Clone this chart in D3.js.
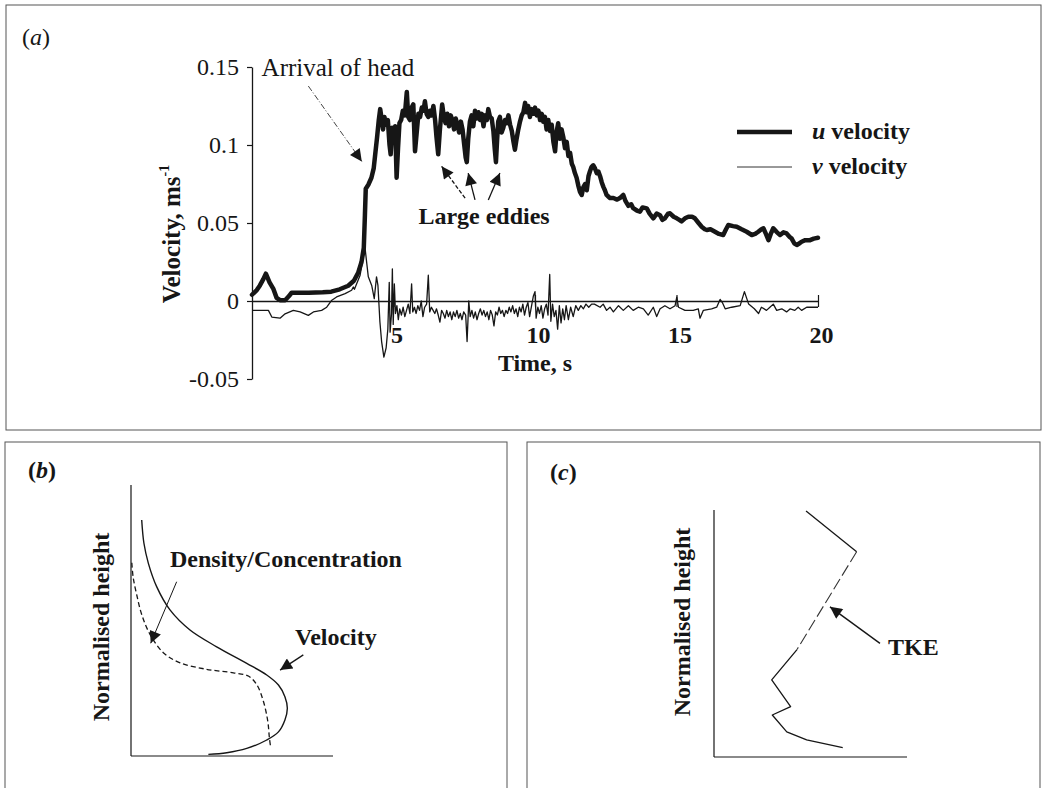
<!DOCTYPE html>
<html>
<head>
<meta charset="utf-8">
<script src="https://cdn.jsdelivr.net/npm/d3@7"></script>
<style>
  html, body { margin: 0; padding: 0; background: #fff; }
  svg { display: block; font-family: "Liberation Serif", "Times New Roman", serif; }
</style>
</head>
<body>
<svg id="fig" width="1044" height="788"></svg>
<script>
// ---- (a) velocity time series ----
const uTime = [0.00,0.17,0.28,0.40,0.49,0.62,0.75,0.87,0.99,1.17,1.30,1.40,2.00,2.50,2.80,3.10,3.40,3.60,3.75,3.87,3.95,3.99,4.02,4.11,4.22,4.30,4.36,4.42,4.48,4.53,4.58,4.63,4.68,4.74,4.80,4.86,4.90,4.95,5.01,5.06,5.11,5.16,5.21,5.27,5.33,5.40,5.47,5.52,5.58,5.64,5.70,5.76,5.82,5.88,5.94,6.00,6.06,6.11,6.17,6.23,6.29,6.35,6.41,6.47,6.52,6.58,6.64,6.72,6.78,6.84,6.90,6.96,7.02,7.08,7.14,7.20,7.26,7.32,7.38,7.44,7.50,7.55,7.59,7.64,7.70,7.76,7.82,7.88,7.94,8.00,8.06,8.12,8.18,8.24,8.30,8.35,8.41,8.47,8.53,8.58,8.62,8.66,8.70,8.76,8.82,8.88,8.94,9.00,9.06,9.12,9.18,9.24,9.29,9.35,9.41,9.47,9.53,9.59,9.65,9.71,9.76,9.82,9.88,9.94,10.00,10.06,10.12,10.18,10.24,10.29,10.35,10.41,10.47,10.53,10.59,10.65,10.71,10.76,10.82,10.88,10.94,11.00,11.06,11.12,11.18,11.24,11.30,11.35,11.41,11.47,11.53,11.59,11.65,11.71,11.77,11.83,11.89,11.94,12.00,12.06,12.12,12.18,12.24,12.30,12.36,12.42,12.47,12.53,12.59,12.65,12.77,12.90,13.00,13.12,13.20,13.30,13.40,13.47,13.60,13.71,13.80,13.95,14.05,14.18,14.30,14.42,14.50,14.59,14.70,14.77,14.90,15.01,15.10,15.18,15.30,15.42,15.55,15.65,15.78,15.89,16.00,16.07,16.20,16.36,16.50,16.65,16.75,16.83,17.00,17.13,17.30,17.48,17.66,17.78,17.89,18.00,18.07,18.16,18.25,18.33,18.42,18.55,18.66,18.78,18.89,19.00,19.07,19.16,19.25,19.35,19.42,19.55,19.72,19.85,20.00];
const uVel = [0.004,0.007,0.010,0.014,0.0175,0.012,0.008,0.002,0.0005,0.0005,0.003,0.0053,0.0053,0.0056,0.006,0.0075,0.0098,0.013,0.018,0.025,0.034,0.055,0.072,0.0745,0.079,0.085,0.095,0.105,0.116,0.123,0.117,0.110,0.118,0.113,0.116,0.100,0.094,0.111,0.104,0.112,0.079,0.098,0.114,0.116,0.122,0.119,0.134,0.118,0.116,0.124,0.126,0.096,0.108,0.120,0.118,0.124,0.122,0.128,0.120,0.118,0.122,0.119,0.125,0.116,0.105,0.094,0.110,0.126,0.118,0.114,0.120,0.112,0.119,0.116,0.110,0.117,0.113,0.108,0.115,0.110,0.100,0.092,0.089,0.104,0.115,0.119,0.112,0.122,0.117,0.121,0.116,0.120,0.112,0.119,0.116,0.123,0.118,0.117,0.109,0.097,0.089,0.103,0.115,0.118,0.108,0.111,0.116,0.114,0.119,0.113,0.109,0.102,0.097,0.104,0.110,0.115,0.119,0.121,0.127,0.121,0.125,0.118,0.123,0.120,0.124,0.119,0.122,0.116,0.120,0.115,0.118,0.110,0.116,0.109,0.113,0.102,0.096,0.108,0.114,0.104,0.110,0.105,0.098,0.102,0.093,0.095,0.088,0.086,0.082,0.079,0.074,0.070,0.068,0.073,0.075,0.071,0.080,0.083,0.086,0.087,0.085,0.082,0.083,0.080,0.076,0.073,0.071,0.068,0.067,0.066,0.066,0.065,0.066,0.068,0.064,0.061,0.062,0.0595,0.058,0.0573,0.060,0.0594,0.056,0.053,0.056,0.055,0.052,0.053,0.056,0.0562,0.054,0.053,0.052,0.051,0.053,0.054,0.054,0.053,0.050,0.0476,0.046,0.0455,0.046,0.0444,0.043,0.0423,0.046,0.0487,0.048,0.0476,0.046,0.0444,0.0423,0.043,0.0444,0.046,0.0466,0.043,0.039,0.043,0.0466,0.044,0.0423,0.044,0.0433,0.041,0.040,0.037,0.0359,0.037,0.038,0.039,0.039,0.040,0.0405];

const vTime = [0.00,0.58,0.70,0.99,1.17,1.46,1.70,1.99,2.17,2.46,2.64,2.82,2.99,3.29,3.52,3.58,3.62,3.82,3.93,3.99,4.05,4.11,4.23,4.32,4.40,4.45,4.52,4.58,4.66,4.74,4.80,4.85,4.88,4.93,4.96,4.99,5.03,5.07,5.12,5.17,5.22,5.28,5.34,5.40,5.46,5.52,5.58,5.64,5.68,5.74,5.80,5.86,5.92,5.98,6.04,6.10,6.17,6.23,6.28,6.34,6.40,6.46,6.52,6.58,6.64,6.70,6.76,6.82,6.88,6.94,7.00,7.06,7.12,7.18,7.24,7.30,7.36,7.42,7.48,7.55,7.60,7.66,7.71,7.77,7.83,7.89,7.95,8.01,8.07,8.13,8.19,8.25,8.31,8.37,8.43,8.49,8.55,8.61,8.67,8.73,8.79,8.85,8.91,8.97,9.03,9.09,9.15,9.21,9.27,9.33,9.39,9.45,9.51,9.57,9.63,9.69,9.75,9.81,9.87,9.94,10.00,10.04,10.10,10.16,10.22,10.28,10.34,10.40,10.46,10.52,10.56,10.62,10.68,10.74,10.80,10.86,10.92,10.98,11.04,11.10,11.18,11.26,11.35,11.44,11.53,11.62,11.71,11.80,11.90,12.00,12.10,12.30,12.41,12.53,12.65,12.77,12.95,13.12,13.30,13.47,13.65,13.83,14.00,14.18,14.30,14.42,14.59,14.77,14.95,15.01,15.07,15.30,15.59,15.77,15.83,15.95,16.24,16.42,16.54,16.62,16.72,16.95,17.25,17.40,17.55,17.75,17.90,18.00,18.18,18.30,18.42,18.54,18.72,18.89,19.02,19.18,19.30,19.42,19.60,20.00];
const vVel = [-0.006,-0.006,-0.0103,-0.011,-0.0082,-0.006,-0.007,-0.0092,-0.007,-0.006,-0.004,0.0005,0.0026,0.0047,0.0069,0.009,0.0075,0.0165,0.028,0.0348,0.025,0.0155,0.010,0.0015,0.0155,0.010,-0.0135,-0.026,-0.036,-0.030,-0.018,0.012,-0.020,-0.008,0.0205,-0.015,0.011,-0.008,-0.003,-0.012,-0.005,-0.009,-0.004,-0.010,-0.006,-0.002,-0.008,0.011,-0.007,-0.004,-0.008,-0.003,-0.006,0.000,-0.010,-0.004,-0.002,0.0165,-0.007,-0.004,-0.006,-0.008,-0.005,-0.009,-0.0135,-0.006,-0.008,-0.011,-0.006,-0.010,-0.007,-0.012,-0.007,-0.010,-0.006,-0.011,-0.008,-0.012,-0.007,-0.009,-0.026,0.000,-0.010,-0.006,-0.011,-0.007,-0.012,-0.008,-0.005,-0.009,-0.006,-0.010,-0.007,-0.012,-0.006,-0.009,-0.016,-0.007,-0.009,-0.004,-0.008,-0.006,-0.010,-0.006,-0.008,-0.004,-0.007,-0.003,-0.008,-0.005,-0.010,-0.004,-0.007,-0.002,-0.009,-0.004,-0.001,-0.010,-0.004,0.003,0.006,-0.011,-0.004,-0.008,-0.003,-0.011,-0.005,-0.002,-0.009,0.017,-0.013,-0.002,-0.010,-0.006,-0.018,-0.003,-0.014,-0.005,-0.012,-0.003,-0.012,-0.004,-0.010,-0.003,-0.006,-0.003,-0.005,-0.002,-0.004,-0.002,-0.002,-0.004,-0.002,-0.006,-0.004,-0.007,-0.003,-0.006,-0.003,-0.006,-0.004,-0.005,-0.009,-0.004,-0.010,-0.005,-0.003,-0.005,-0.003,0.0025,-0.004,-0.006,-0.006,-0.005,-0.011,-0.006,-0.005,-0.004,0.001,-0.001,-0.005,-0.004,-0.003,0.006,-0.002,-0.005,-0.008,-0.004,-0.006,-0.004,-0.002,-0.006,-0.005,-0.007,-0.005,-0.006,-0.004,-0.006,-0.004,-0.004];

const yTickValues = [-0.05, 0, 0.05, 0.1, 0.15];
const yTickLabels = ["-0.05", "0", "0.05", "0.1", "0.15"];
const xTickValues = [5, 10, 15, 20];
const xTickLabels = ["5", "10", "15", "20"];
const seriesNames = ["u", "v"];

// ---- (b) schematic vertical profiles (normalised units) ----
const velProfileX = [0.053,0.064,0.086,0.127,0.193,0.292,0.424,0.573,0.672,0.730,0.762,0.774,0.762,0.730,0.672,0.573,0.474,0.383];
const velProfileY = [0.871,0.785,0.711,0.625,0.539,0.465,0.403,0.342,0.299,0.262,0.219,0.176,0.133,0.089,0.059,0.028,0.012,0.006];
const densProfileX = [0.004,0.011,0.028,0.053,0.094,0.160,0.243,0.374,0.507,0.581,0.622,0.655,0.677,0.685,0.692];
const densProfileY = [0.713,0.658,0.596,0.522,0.449,0.381,0.344,0.320,0.307,0.295,0.264,0.203,0.129,0.068,0.028];

// ---- (c) turbulent kinetic energy profile ----
const tkeX = [0.477,0.739,0.430,0.299,0.397,0.302,0.377,0.480,0.667];
const tkeY = [0.996,0.831,0.435,0.312,0.204,0.170,0.102,0.069,0.038];

const svg = d3.select("#fig");
const ink = "#161616";

// arrowhead marker
const defs = svg.append("defs");
defs.append("marker")
  .attr("id", "head")
  .attr("viewBox", "0 0 10 10")
  .attr("refX", 10).attr("refY", 5)
  .attr("markerUnits", "userSpaceOnUse")
  .attr("markerWidth", 15).attr("markerHeight", 12)
  .attr("orient", "auto")
  .append("path").attr("d", "M0,0 L10,5 L0,10 Z").attr("fill", ink);

// panel frames
const frames = [
  {x: 6, y: 5, w: 1035, h: 425},
  {x: 5, y: 442, w: 502, h: 360},
  {x: 527, y: 442, w: 513, h: 360}
];
svg.selectAll("rect.frame").data(frames).join("rect")
  .attr("class", "frame")
  .attr("x", d => d.x).attr("y", d => d.y)
  .attr("width", d => d.w).attr("height", d => d.h)
  .attr("fill", "none").attr("stroke", "#555").attr("stroke-width", 1);

// panel letters
function panelLetter(x, y, letter, bold) {
  const t = svg.append("text").attr("x", x).attr("y", y)
    .attr("font-size", 24).attr("fill", ink)
    .attr("font-weight", bold ? "bold" : "normal");
  t.append("tspan").text("(");
  t.append("tspan").attr("font-style", "italic").text(letter);
  t.append("tspan").text(")");
}
panelLetter(22, 45, "a", false);
panelLetter(28, 478, "b", true);
panelLetter(550, 480, "c", true);

// ================= panel (a) =================
const x = d3.scaleLinear().domain([0, 20]).range([252, 818]);
const y = d3.scaleLinear().domain([-0.05, 0.15]).range([379, 67]);

const gA = svg.append("g");

// y axis
const yAxis = d3.axisLeft(y).tickValues(yTickValues)
  .tickFormat((d, i) => yTickLabels[i]).tickSizeInner(5).tickSizeOuter(0).tickPadding(8);
const gy = gA.append("g").attr("transform", `translate(${x(0)},0)`).call(yAxis);
gy.select(".domain").attr("stroke", ink).attr("stroke-width", 1.3);
gy.selectAll(".tick line").attr("stroke", ink).attr("stroke-width", 1.2);
gy.selectAll(".tick text").attr("font-size", 24).attr("font-family", "Liberation Serif")
  .attr("fill", ink);

// x axis along zero velocity
const xAxis = d3.axisBottom(x).tickValues(xTickValues)
  .tickFormat((d, i) => xTickLabels[i]).tickSizeInner(6).tickSizeOuter(0).tickPadding(19);
const gx = gA.append("g").attr("transform", `translate(0,${y(0)})`).call(xAxis);
gx.select(".domain").attr("stroke", ink).attr("stroke-width", 1.3);
gx.selectAll(".tick line").attr("stroke", ink).attr("stroke-width", 1.2).attr("y1", -6);
gx.selectAll(".tick text").attr("font-size", 24).attr("font-weight", "bold")
  .attr("font-family", "Liberation Serif").attr("fill", ink).attr("dx", 3);

// axis titles
const ylab = gA.append("text")
  .attr("transform", "translate(180,234) rotate(-90)")
  .attr("text-anchor", "middle")
  .attr("font-size", 25).attr("font-weight", "bold").attr("fill", ink);
ylab.append("tspan").text("Velocity, ms");
ylab.append("tspan").attr("font-size", 14).attr("dy", -11).text("-1");

gA.append("text").attr("x", x(10)).attr("y", 371)
  .attr("text-anchor", "middle").attr("font-size", 24).attr("font-weight", "bold")
  .attr("fill", ink).text("Time, s");

// series
const uData = d3.zip(uTime, uVel);
const vData = d3.zip(vTime, vVel);
const line = d3.line().x(d => x(d[0])).y(d => y(d[1]));

gA.append("path").datum(vData).attr("d", line)
  .attr("fill", "none").attr("stroke", ink).attr("stroke-width", 1.3)
  .attr("stroke-linejoin", "round");
gA.append("path").datum(uData).attr("d", line)
  .attr("fill", "none").attr("stroke", ink).attr("stroke-width", 4.5)
  .attr("stroke-linejoin", "round").attr("stroke-linecap", "round");

// annotations
gA.append("text").attr("x", x(0.34)).attr("y", y(0.1442))
  .attr("font-size", 25).attr("fill", ink).text("Arrival of head");
gA.append("line")
  .attr("x1", x(1.99)).attr("y1", y(0.1378)).attr("x2", x(3.88)).attr("y2", y(0.0895))
  .attr("stroke", "#444").attr("stroke-width", 1).attr("stroke-dasharray", "6,2,1,2")
  .attr("marker-end", "url(#head)");

gA.append("text").attr("x", x(5.88)).attr("y", y(0.0496))
  .attr("font-size", 24).attr("font-weight", "bold").attr("fill", ink).text("Large eddies");
const eddyArrows = [
  {t0: 7.53, v0: 0.0659, t1: 6.70, v1: 0.0863, dash: "4,2"},
  {t0: 7.88, v0: 0.0648, t1: 7.64, v1: 0.0820, dash: null},
  {t0: 8.35, v0: 0.0648, t1: 8.76, v1: 0.0820, dash: null}
];
gA.selectAll("line.eddy").data(eddyArrows).join("line")
  .attr("class", "eddy")
  .attr("x1", d => x(d.t0)).attr("y1", d => y(d.v0))
  .attr("x2", d => x(d.t1)).attr("y2", d => y(d.v1))
  .attr("stroke", ink).attr("stroke-width", 1.3)
  .attr("stroke-dasharray", d => d.dash)
  .attr("marker-end", "url(#head)");

// legend
const legend = gA.append("g");
seriesNames.forEach((name, i) => {
  const ly = 132 + i * 35;
  legend.append("line").attr("x1", 737).attr("x2", 792).attr("y1", ly).attr("y2", ly)
    .attr("stroke", i === 0 ? ink : "#333").attr("stroke-width", i === 0 ? 4.5 : 1);
  const t = legend.append("text").attr("x", 812).attr("y", ly + 7)
    .attr("font-size", 24).attr("font-weight", "bold").attr("fill", ink);
  t.append("tspan").attr("font-style", "italic").text(name);
  t.append("tspan").text(" velocity");
});

// ================= panel (b) =================
const xb = d3.scaleLinear().domain([0, 1]).range([131, 333]);
const yb = d3.scaleLinear().domain([0, 1]).range([756, 485]);
const gB = svg.append("g");
gB.append("line").attr("x1", xb(0)).attr("x2", xb(0)).attr("y1", yb(0)).attr("y2", yb(1))
  .attr("stroke", ink).attr("stroke-width", 1.2);
gB.append("line").attr("x1", xb(0)).attr("x2", xb(1)).attr("y1", yb(0)).attr("y2", yb(0))
  .attr("stroke", ink).attr("stroke-width", 1.2);

const smooth = d3.line().curve(d3.curveCatmullRom.alpha(0.5));
gB.append("path")
  .attr("d", smooth(d3.zip(velProfileX, velProfileY).map(d => [xb(d[0]), yb(d[1])])))
  .attr("fill", "none").attr("stroke", ink).attr("stroke-width", 1.4);
gB.append("path")
  .attr("d", smooth(d3.zip(densProfileX, densProfileY).map(d => [xb(d[0]), yb(d[1])])))
  .attr("fill", "none").attr("stroke", ink).attr("stroke-width", 1.3)
  .attr("stroke-dasharray", "5,3");

gB.append("text").attr("transform", `translate(101,${627}) rotate(-90)`)
  .attr("text-anchor", "middle").attr("dominant-baseline", "central")
  .attr("font-size", 24).attr("font-weight", "bold").attr("fill", ink).text("Normalised height");
gB.append("text").attr("x", xb(0.193)).attr("y", yb(0.698))
  .attr("font-size", 24).attr("font-weight", "bold").attr("fill", ink).text("Density/Concentration");
gB.append("text").attr("x", xb(0.812)).attr("y", yb(0.41))
  .attr("font-size", 24).attr("font-weight", "bold").attr("fill", ink).text("Velocity");
gB.append("line").attr("x1", xb(0.226)).attr("y1", yb(0.643)).attr("x2", xb(0.0975)).attr("y2", yb(0.416))
  .attr("stroke", ink).attr("stroke-width", 1).attr("marker-end", "url(#head)");
gB.append("line").attr("x1", xb(0.853)).attr("y1", yb(0.373)).attr("x2", xb(0.738)).attr("y2", yb(0.317))
  .attr("stroke", ink).attr("stroke-width", 1.3).attr("marker-end", "url(#head)");

// ================= panel (c) =================
const xc = d3.scaleLinear().domain([0, 1]).range([714, 907]);
const yc = d3.scaleLinear().domain([0, 1]).range([757, 510]);
const gC = svg.append("g");
gC.append("line").attr("x1", xc(0)).attr("x2", xc(0)).attr("y1", yc(0)).attr("y2", yc(1))
  .attr("stroke", ink).attr("stroke-width", 1.2);
gC.append("line").attr("x1", xc(0)).attr("x2", xc(1)).attr("y1", yc(0)).attr("y2", yc(0))
  .attr("stroke", ink).attr("stroke-width", 1.2);

const tke = d3.zip(tkeX, tkeY).map(d => [xc(d[0]), yc(d[1])]);
const straight = d3.line();
gC.append("path").attr("d", straight(tke.slice(0, 2)))
  .attr("fill", "none").attr("stroke", ink).attr("stroke-width", 1.3);
gC.append("path").attr("d", straight(tke.slice(1, 3)))
  .attr("fill", "none").attr("stroke", "#333").attr("stroke-width", 1.1).attr("stroke-dasharray", "12,4");
gC.append("path").attr("d", straight(tke.slice(2)))
  .attr("fill", "none").attr("stroke", ink).attr("stroke-width", 1.3).attr("stroke-linejoin", "round");

gC.append("text").attr("transform", `translate(682,${622}) rotate(-90)`)
  .attr("text-anchor", "middle").attr("dominant-baseline", "central")
  .attr("font-size", 24).attr("font-weight", "bold").attr("fill", ink).text("Normalised height");
gC.append("text").attr("x", xc(0.902)).attr("y", yc(0.413))
  .attr("font-size", 24).attr("font-weight", "bold").attr("fill", ink).text("TKE");
gC.append("line").attr("x1", xc(0.860)).attr("y1", yc(0.460)).attr("x2", xc(0.601)).attr("y2", yc(0.608))
  .attr("stroke", ink).attr("stroke-width", 1.4).attr("marker-end", "url(#head)");
</script>
</body>
</html>
